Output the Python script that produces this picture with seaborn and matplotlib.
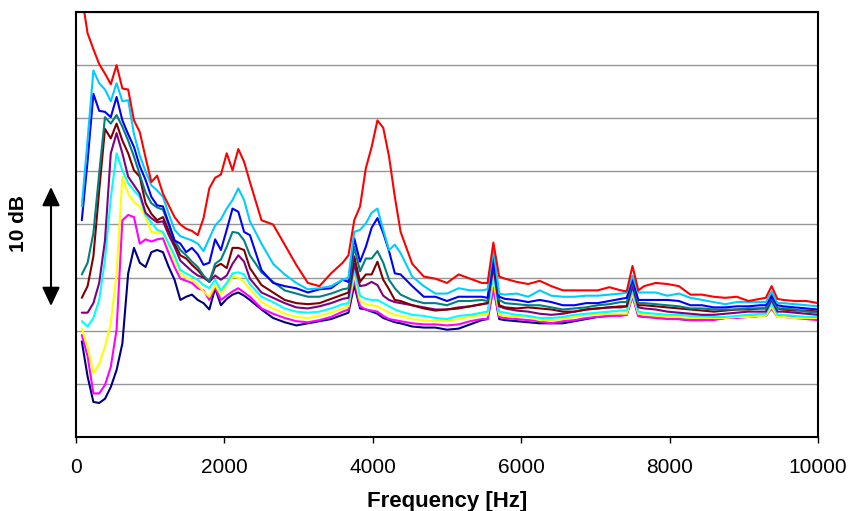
import numpy as np
import pandas as pd
import matplotlib
matplotlib.use('Agg')
import matplotlib.pyplot as plt
import seaborn as sns

# Spectra of 10 recordings.
# x = FFT bin number (bin width 78.125 Hz), y = level in dB (arbitrary zero,
# gridlines every 5 dB).

bins = [1, 2, 3, 4, 5, 6, 7, 8, 9, 10,
        11, 12, 13, 14, 15, 16, 17, 18, 19, 20,
        21, 22, 23, 24, 25, 26, 27, 28, 29, 30,
        32, 34, 36, 38, 40, 42, 44, 46,
        47, 48, 49, 50, 51, 52, 53, 54, 55, 56,
        58, 60, 62, 64, 66, 68, 70,
        71, 72, 73,
        74, 76, 78, 80, 82, 84, 86, 88, 90, 92, 94,
        95, 96, 97,
        98, 100, 102, 104, 106, 108, 110, 112, 114, 116, 118,
        119, 120, 121,
        122, 124, 126, 128]
bin_hz = 78.125

red = [41.5, 38.0, 36.5, 35.1, 34.2, 33.2, 35.0, 32.8, 32.7, 29.8,
       28.7, 26.3, 24.0, 24.6, 22.9, 21.8, 20.7, 20.0, 19.6, 19.4,
       19.0, 20.6, 23.4, 24.4, 24.7, 26.7, 25.1, 27.1, 25.9, 24.0,
       20.4, 20.0, 18.1, 16.2, 14.5, 14.2, 15.4, 16.4,
       17.1, 20.4, 21.7, 25.3, 27.3, 29.8, 29.1, 26.4, 22.6, 19.3,
       16.3, 15.1, 14.9, 14.5, 15.3, 14.9, 14.5,
       14.5, 18.3, 15.1,
       14.9, 14.6, 14.4, 14.7, 14.2, 13.8, 13.8, 13.8, 13.8, 14.1, 13.8,
       13.7, 16.1, 13.8,
       14.2, 14.5, 14.4, 14.2, 13.4, 13.4, 13.2, 13.1, 13.2, 12.8, 13.0,
       13.1, 14.2, 13.0,
       12.9, 12.8, 12.8, 12.6]

skyblue = [21.7, 28.0, 34.5, 33.3, 32.7, 31.6, 33.3, 31.6, 31.7, 28.5,
           26.5, 25.0, 23.7, 23.2, 22.6, 21.0, 19.5, 18.9, 18.7, 18.5,
           18.2, 17.5, 18.7, 19.9, 20.5, 21.5, 22.3, 23.4, 22.3, 20.3,
           18.2, 16.3, 15.3, 14.5, 13.9, 14.0, 14.2, 14.8,
           15.0, 19.3, 19.5, 20.1, 21.1, 21.5, 19.5, 17.6, 18.1, 17.3,
           15.1, 14.2, 13.5, 13.5, 14.0, 13.8, 13.8,
           13.9, 17.7, 13.5,
           13.4, 13.5, 13.2, 13.8, 13.3, 13.2, 13.2, 13.3, 13.3, 13.4, 13.5,
           13.6, 15.2, 13.6,
           13.6, 13.6, 13.3, 13.5, 13.1, 12.9, 12.7, 12.5, 12.7, 12.7, 12.7,
           12.7, 13.7, 12.6,
           12.6, 12.5, 12.4, 12.3]

blue = [20.4, 26.0, 32.3, 30.7, 30.6, 30.1, 32.0, 29.8, 28.5, 27.3,
        25.5, 24.2, 22.6, 21.8, 21.7, 20.1, 18.5, 18.2, 17.4, 17.8,
        17.2, 16.2, 16.4, 18.6, 17.6, 19.5, 21.5, 21.2, 19.3, 19.0,
        15.7, 14.5, 14.2, 14.0, 13.6, 13.9, 14.0, 14.8,
        14.6, 18.7, 16.5, 17.9, 19.7, 20.6, 19.2, 17.5, 15.4, 15.3,
        14.2, 13.2, 13.2, 12.8, 13.2, 13.2, 13.2,
        13.1, 16.7, 13.2,
        13.0, 12.9, 12.7, 12.9, 12.7, 12.4, 12.4, 12.6, 12.6, 12.8, 13.0,
        13.1, 14.8, 12.9,
        12.9, 12.9, 12.9, 12.8, 12.4, 12.4, 12.2, 12.2, 12.3, 12.3, 12.4,
        12.4, 13.2, 12.4,
        12.3, 12.2, 12.1, 12.0]

teal = [15.3, 16.4, 19.2, 24.8, 30.1, 29.5, 30.3, 29.2, 27.9, 26.4,
        24.7, 23.0, 22.0, 21.6, 21.4, 20.0, 18.5, 17.6, 17.1, 16.5,
        16.0, 15.2, 14.6, 16.3, 16.7, 17.9, 19.3, 19.2, 18.5, 17.1,
        15.5, 14.6, 13.8, 13.5, 13.2, 13.2, 13.5, 13.9,
        14.0, 17.9, 15.6, 16.8, 16.8, 17.5, 16.4, 14.8, 14.0, 13.4,
        12.9, 12.6, 12.6, 12.4, 12.8, 12.8, 12.9,
        12.8, 17.0, 12.9,
        12.6, 12.5, 12.4, 12.4, 12.2, 12.0, 12.1, 12.2, 12.4, 12.5, 12.7,
        12.7, 14.6, 12.6,
        12.6, 12.5, 12.4, 12.3, 12.1, 12.1, 12.0, 12.0, 12.0, 12.1, 12.1,
        12.1, 13.1, 12.1,
        12.1, 12.0, 11.8, 11.7]

maroon = [13.1, 14.2, 17.0, 23.2, 29.0, 28.1, 29.5, 27.9, 26.7, 25.1,
          24.5, 22.0, 21.0, 20.4, 20.7, 19.4, 18.2, 17.1, 16.8, 16.2,
          15.7, 15.1, 14.6, 16.0, 16.3, 15.9, 17.8, 17.8, 17.6, 15.9,
          14.3, 13.6, 12.9, 12.6, 12.5, 12.6, 13.0, 13.4,
          13.6, 17.0, 14.6, 15.3, 15.3, 16.5, 14.8, 13.9, 12.9, 12.8,
          12.4, 12.1, 11.9, 12.0, 12.1, 12.3, 12.5,
          12.6, 16.6, 12.4,
          12.2, 12.1, 12.2, 12.1, 12.0, 11.8, 11.8, 12.0, 12.1, 12.2, 12.3,
          12.3, 14.6, 12.4,
          12.4, 12.3, 12.2, 12.1, 12.0, 11.9, 11.8, 11.9, 12.0, 12.0, 12.1,
          12.1, 13.4, 12.1,
          12.0, 11.9, 11.9, 11.8]

purple = [11.7, 11.7, 12.6, 14.5, 18.5, 26.7, 28.6, 26.7, 24.5, 23.7,
          22.9, 21.1, 20.6, 20.2, 20.3, 19.0, 17.9, 16.6, 16.1, 15.6,
          15.2, 15.0, 14.6, 15.2, 14.8, 15.2, 16.3, 17.1, 16.5, 14.9,
          13.6, 13.1, 12.6, 12.2, 12.1, 12.3, 12.6, 13.0,
          13.1, 16.3, 14.2, 14.3, 14.6, 14.3, 13.3, 12.9, 12.7, 12.6,
          12.4, 12.2, 12.0, 12.0, 12.2, 12.3, 12.5,
          12.6, 16.0, 12.3,
          12.1, 11.9, 11.8, 11.6, 11.5, 11.6, 11.8, 12.0, 12.1, 12.2, 12.2,
          12.3, 14.2, 12.2,
          12.1, 12.0, 11.8, 11.7, 11.6, 11.5, 11.5, 11.6, 11.7, 11.8, 11.8,
          11.8, 12.9, 11.8,
          11.8, 11.7, 11.6, 11.5]

cyan = [10.9, 10.4, 11.2, 12.9, 16.7, 22.5, 26.7, 25.1, 23.9, 23.2,
        22.6, 20.9, 20.2, 19.5, 19.3, 18.2, 17.1, 15.7, 15.4, 15.1,
        14.8, 14.3, 14.0, 14.8, 13.8, 14.5, 15.4, 15.5, 15.3, 14.4,
        13.2, 12.7, 12.1, 11.8, 11.7, 11.8, 12.1, 12.5,
        12.6, 15.8, 13.3, 13.0, 12.9, 12.9, 12.6, 12.3, 12.0, 11.8,
        11.5, 11.4, 11.2, 11.1, 11.4, 11.5, 11.7,
        11.8, 15.5, 11.8,
        11.7, 11.5, 11.4, 11.2, 11.2, 11.3, 11.5, 11.6, 11.7, 11.8, 11.9,
        11.9, 13.8, 11.8,
        11.7, 11.6, 11.5, 11.5, 11.4, 11.4, 11.3, 11.3, 11.4, 11.5, 11.6,
        11.6, 12.6, 11.5,
        11.5, 11.4, 11.3, 11.3]

yellow = [10.2, 8.5, 6.0, 6.9, 8.5, 10.7, 15.4, 24.5, 22.9, 22.1,
          21.7, 20.7, 19.3, 19.2, 19.2, 18.0, 16.7, 15.4, 15.0, 14.8,
          14.3, 13.7, 13.2, 14.3, 13.4, 14.3, 15.1, 15.0, 14.6, 13.9,
          12.7, 12.1, 11.6, 11.3, 11.2, 11.4, 11.7, 12.1,
          12.3, 15.3, 12.8, 12.5, 12.4, 12.3, 12.0, 11.7, 11.5, 11.4,
          11.1, 11.0, 10.9, 10.9, 11.1, 11.3, 11.5,
          11.5, 14.8, 11.5,
          11.4, 11.3, 11.3, 11.0, 11.0, 11.1, 11.3, 11.5, 11.5, 11.6, 11.6,
          11.6, 13.5, 11.6,
          11.5, 11.4, 11.3, 11.3, 11.2, 11.2, 11.2, 11.2, 11.3, 11.3, 11.4,
          11.4, 12.3, 11.3,
          11.3, 11.2, 11.2, 11.2]

magenta = [9.6, 7.6, 4.1, 4.1, 4.9, 6.6, 10.1, 20.4, 20.9, 20.7,
           18.2, 18.6, 18.4, 18.6, 18.7, 17.3, 16.0, 14.9, 14.7, 14.5,
           14.0, 13.8, 12.9, 14.1, 12.9, 13.3, 13.7, 14.0, 13.6, 13.2,
           12.1, 11.6, 11.2, 10.9, 10.8, 11.0, 11.3, 11.8,
           12.0, 14.8, 12.3, 12.0, 11.9, 11.8, 11.4, 11.1, 11.0, 10.9,
           10.7, 10.6, 10.6, 10.5, 10.6, 10.9, 11.1,
           11.1, 13.9, 11.3,
           11.2, 11.1, 11.0, 10.9, 10.7, 10.9, 11.0, 11.2, 11.3, 11.4, 11.4,
           11.5, 13.2, 11.4,
           11.3, 11.2, 11.1, 11.1, 11.0, 11.0, 11.0, 11.2, 11.2, 11.3, 11.4,
           11.4, 12.1, 11.3,
           11.3, 11.2, 11.1, 11.0]

navy = [9.0, 5.7, 3.3, 3.2, 3.6, 4.7, 6.3, 8.8, 15.4, 17.8,
        16.4, 16.0, 17.4, 17.6, 17.4, 16.0, 14.8, 12.9, 13.2, 13.4,
        12.9, 12.6, 12.0, 14.0, 12.4, 13.0, 13.4, 13.6, 13.3, 12.9,
        12.0, 11.2, 10.8, 10.5, 10.7, 10.9, 11.1, 11.5,
        11.7, 14.3, 12.1, 12.0, 11.8, 11.6, 11.2, 11.0, 10.8, 10.7,
        10.4, 10.3, 10.3, 10.1, 10.2, 10.6, 11.0,
        11.1, 14.2, 11.1,
        11.0, 10.9, 10.8, 10.7, 10.7, 10.7, 10.9, 11.1, 11.3, 11.4, 11.5,
        11.5, 13.4, 11.4,
        11.3, 11.3, 11.2, 11.1, 11.0, 11.0, 11.1, 11.2, 11.3, 11.3, 11.4,
        11.4, 12.3, 11.4,
        11.3, 11.3, 11.2, 11.1]

# drawing order: first is at the bottom
series = {'navy': navy, 'magenta': magenta, 'yellow': yellow, 'cyan': cyan,
          'purple': purple, 'maroon': maroon, 'teal': teal, 'blue': blue,
          'skyblue': skyblue, 'red': red}
colors = {'navy': '#000080', 'magenta': '#FF00FF', 'yellow': '#FFFF00',
          'cyan': '#00FFFF', 'purple': '#800080', 'maroon': '#800000',
          'teal': '#008080', 'blue': '#0000FF', 'skyblue': '#00CCFF',
          'red': '#FF0000'}

freq = np.array(bins) * bin_hz
frames = []
for name, vals in series.items():
    assert len(vals) == len(bins), name
    frames.append(pd.DataFrame({'freq': freq, 'level': vals, 'series': name}))
df = pd.concat(frames, ignore_index=True)

sns.set_theme(style='white')
plt.rcParams['font.family'] = ['Liberation Sans', 'DejaVu Sans']
plt.rcParams['text.color'] = 'black'
plt.rcParams['axes.labelcolor'] = 'black'
plt.rcParams['xtick.color'] = 'black'

W, H = 851, 511
fig = plt.figure(figsize=(W / 100, H / 100), dpi=100)
ax = fig.add_axes([76 / W, 1 - 437 / H, 742 / W, 425 / H])

sns.lineplot(data=df, x='freq', y='level', hue='series',
             hue_order=list(series.keys()), palette=colors,
             estimator=None, sort=False, lw=1.5, legend=False, ax=ax)

ax.set_xlim(0, 10000)
ax.set_ylim(0, 40)
ax.set_xticks(np.arange(0, 10001, 2000))
ax.set_yticks(np.arange(0, 41, 5))
ax.set_yticklabels([])
ax.yaxis.grid(True, color='#969696', lw=1)
ax.xaxis.grid(False)
ax.tick_params(axis='x', direction='out', length=4, width=1, color='black',
               labelcolor='black', pad=11, labelsize=15, bottom=True)
ax.tick_params(axis='y', length=0)
for sp in ax.spines.values():
    sp.set_color('black')
    sp.set_linewidth(1.5)

ax.set_ylabel('')
ax.set_xlabel('Frequency [Hz]', fontsize=16, fontweight='bold', labelpad=10,
              color='black')

# 10 dB scale bar
fig.text(18 / W, 1 - 224 / H, '10 dB', rotation=90, ha='center', va='center',
         fontsize=15, fontweight='bold', color='black')
ax.annotate('', xy=(51, H - 187), xytext=(51, H - 306),
            xycoords='figure pixels', textcoords='figure pixels',
            arrowprops=dict(arrowstyle='<|-|>,head_length=0.95,head_width=0.45',
                            mutation_scale=12, color='black', lw=1.5,
                            shrinkA=0, shrinkB=0))

fig.savefig('out.png', dpi=100)
